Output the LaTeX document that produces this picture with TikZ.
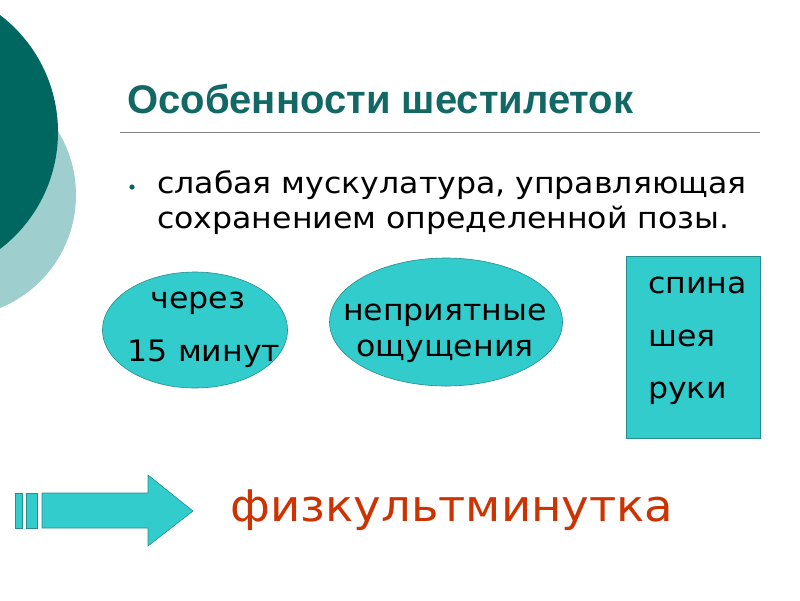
\documentclass[tikz,border=0pt]{standalone}
\usepackage{xcolor}
\usepackage{fontspec}
\usepackage{tikz}
\usetikzlibrary{shapes.geometric, positioning}
\setmainfont{DejaVu Sans}[FakeStretch=1.07]
\newfontfamily\headfont{Liberation Sans}
\definecolor{deepteal}{RGB}{0, 102, 96}
\definecolor{paleteal}{RGB}{158, 206, 206}
\definecolor{headteal}{RGB}{18, 104, 100}
\definecolor{aquafill}{RGB}{51, 204, 204}
\definecolor{aquaedge}{RGB}{40, 140, 140}
\definecolor{rulegray}{RGB}{130, 130, 130}
\definecolor{warmred}{RGB}{204, 51, 0}
\tikzset{
  bodytext/.style={font=\fontsize{29.5}{34}\selectfont, text=black, inner sep=0pt},
  bubble/.style={ellipse, fill=aquafill, draw=aquaedge, line width=0.6pt, inner sep=0pt},
  listbox/.style={rectangle, fill=aquafill, draw=aquaedge, line width=0.6pt, inner sep=0pt}
}

\begin{document}
\begin{tikzpicture}[x=1pt, y=-1pt]
            \clip (0,0) rectangle (800,600);
            \useasboundingbox (0,0) rectangle (800,600);
            % circles at the left edge
            \fill[paleteal] (-46,195) circle (122);
            \fill[deepteal] (-89,132) circle (147);
            % title and rule
            \node[anchor=base west, inner sep=0pt, text=headteal,
                  font=\headfont\bfseries\fontsize{40}{44}\selectfont] (title) at (127,113) {Особенности шестилеток};
            \draw[rulegray, line width=1pt] (120,132) -- (760,132);
            % bullet text
            \fill[deepteal] (132,187) circle (2.6);
            \node[bodytext, anchor=base west] (line1) at (157,193) {слабая мускулатура, управляющая};
            \node[bodytext, anchor=base west] (line2) at (157,228) {сохранением определенной позы.};
            % shapes
            \node[bubble, minimum width=185pt, minimum height=116pt] (after) at (195,330) {};
            \node[bodytext, anchor=base] (after1) at (198,308) {через};
            \node[bodytext, anchor=base] (after2) at (204,361) {15 минут};
            \node[bubble, minimum width=233pt, minimum height=128pt] (feel) at (446,322) {};
            \node[bodytext, anchor=base] (feel1) at (445,320) {неприятные};
            \node[bodytext, anchor=base] (feel2) at (445,356) {ощущения};
            \node[listbox, minimum width=134pt, minimum height=182pt] (parts) at (693,347) {};
            \node[bodytext, anchor=base west] (parts1) at (648,293) {спина};
            \node[bodytext, anchor=base west] (parts2) at (648,346) {шея};
            \node[bodytext, anchor=base west] (parts3) at (648,398) {руки};
            % arrow
            \filldraw[fill=aquafill, draw=aquaedge, line width=0.6pt] (15,493) rectangle (22,528);
            \filldraw[fill=aquafill, draw=aquaedge, line width=0.6pt] (26,493) rectangle (37,528);
            \filldraw[fill=aquafill, draw=aquaedge, line width=0.6pt]
                (42,493) -- (148,493) -- (148,475) -- (193,511) -- (148,546) -- (148,528) -- (42,528) -- cycle;
            \node[anchor=center, inner sep=0pt, text=warmred,
                  font=\fontsize{43.6}{48}\selectfont] (pause) at (452,510) {физкультминутка};
\end{tikzpicture}
\end{document}
